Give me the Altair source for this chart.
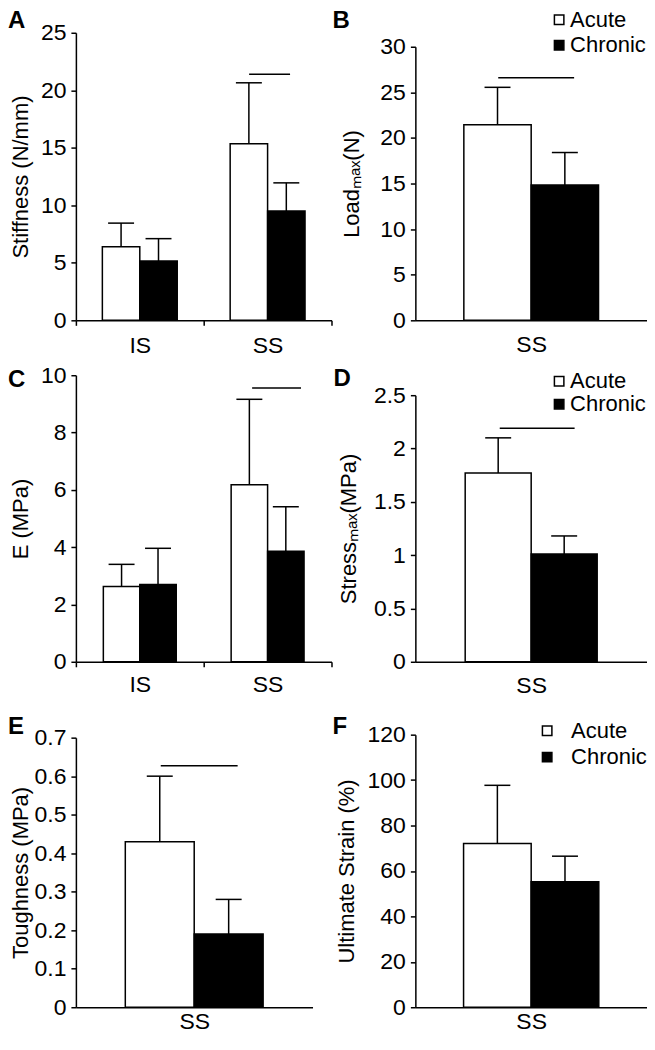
import altair as alt
import pandas as pd

FONT = "Liberation Sans"

conds = ["Acute", "Chronic"]
fills = ["white", "black"]

# Panel A - Stiffness
a_groups = ["IS", "IS", "SS", "SS"]
a_conds = ["Acute", "Chronic", "Acute", "Chronic"]
a_mean = [6.4, 5.15, 15.35, 9.5]
a_sd = [2.05, 1.95, 5.3, 2.45]
a_sig = 21.4
a_ticks = [0, 5, 10, 15, 20, 25]

# Panel B - Load max
b_groups = ["SS", "SS"]
b_conds = ["Acute", "Chronic"]
b_mean = [21.45, 14.85]
b_sd = [4.1, 3.55]
b_sig = 26.6
b_ticks = [0, 5, 10, 15, 20, 25, 30]

# Panel C - E modulus
c_groups = ["IS", "IS", "SS", "SS"]
c_conds = ["Acute", "Chronic", "Acute", "Chronic"]
c_mean = [2.63, 2.7, 6.18, 3.86]
c_sd = [0.77, 1.26, 2.98, 1.55]
c_sig = 9.55
c_ticks = [0, 2, 4, 6, 8, 10]

# Panel D - Stress max
d_groups = ["SS", "SS"]
d_conds = ["Acute", "Chronic"]
d_mean = [1.77, 1.01]
d_sd = [0.33, 0.17]
d_sig = 2.19
d_ticks = [0, 0.5, 1, 1.5, 2, 2.5]

# Panel E - Toughness
e_groups = ["SS", "SS"]
e_conds = ["Acute", "Chronic"]
e_mean = [0.43, 0.19]
e_sd = [0.17, 0.09]
e_sig = 0.627
e_ticks = [0, 0.1, 0.2, 0.3, 0.4, 0.5, 0.6, 0.7]

# Panel F - Ultimate strain
f_groups = ["SS", "SS"]
f_conds = ["Acute", "Chronic"]
f_mean = [72.1, 55.2]
f_sd = [25.6, 11.3]
f_ticks = [0, 20, 40, 60, 80, 100, 120]


def panel(letter, groups, cnds, means, sds, ticks, ytitle, plot_w, cell_h, plot_h, title_x,
          sig=None, sig_w=60, sig_dx=0, offset_pad=0.72, legend=None,
          letter_pos=(-66, 0), label_pad=12):
    df = pd.DataFrame({"group": groups, "cond": cnds, "mean": means, "sd": sds})
    df["upper"] = df["mean"] + df["sd"]
    cats = list(dict.fromkeys(groups))
    two = len(cats) > 1
    yscale = alt.Scale(domain=[0, ticks[-1]], range=[cell_h, cell_h - plot_h],
                       nice=False, zero=True)
    yaxis = alt.Axis(values=ticks, format="~r", title=ytitle, titleX=title_x,
                     titleY=cell_h - plot_h / 2, titleAngle=270, titleBaseline="bottom",
                     titleAlign="center")
    xscale = alt.Scale(domain=cats, paddingInner=0, paddingOuter=0)
    xaxis = alt.Axis(title=None, labelAngle=0, ticks=two, tickBand="extent",
                     labelPadding=label_pad)
    x = alt.X("group:N", scale=xscale, axis=xaxis)
    xo = alt.XOffset("cond:N", scale=alt.Scale(domain=conds, paddingOuter=offset_pad,
                                               paddingInner=0))
    if legend is not None:
        lx, ly, loff, rpad = legend
        leg = alt.Legend(title=None, orient="none", legendX=lx, legendY=ly, offset=0,
                         symbolType="square", symbolSize=90, symbolStrokeColor="black",
                         symbolStrokeWidth=1.5, labelFont=FONT, labelFontSize=22,
                         labelColor="black", labelOffset=loff, rowPadding=rpad, padding=0)
    else:
        leg = None
    color = alt.Color("cond:N", scale=alt.Scale(domain=conds, range=fills), legend=leg)
    base = alt.Chart(df)
    bars = base.mark_bar(stroke="black", strokeWidth=1.5).encode(
        x=x, xOffset=xo, y=alt.Y("mean:Q", scale=yscale, axis=yaxis), color=color)
    err = base.mark_rule(color="black", strokeWidth=1.5).encode(
        x=x, xOffset=xo, y=alt.Y("mean:Q", scale=yscale, axis=yaxis), y2="upper:Q")
    cap = base.mark_tick(color="black", size=26, thickness=1.5, opacity=1).encode(
        x=x, xOffset=xo, y=alt.Y("upper:Q", scale=yscale, axis=yaxis))
    layers = [bars, err, cap]
    if sig is not None:
        sdf = pd.DataFrame({"group": [cats[-1]], "sig": [sig]})
        layers.append(alt.Chart(sdf).mark_tick(color="black", size=sig_w, thickness=1.5,
                                               opacity=1, xOffset=sig_dx).encode(
            x=x, y=alt.Y("sig:Q", scale=yscale, axis=yaxis)))
    ldf = pd.DataFrame({"letter": [letter]})
    layers.append(alt.Chart(ldf).mark_text(align="left", baseline="top", font=FONT,
                                           fontSize=24, fontWeight="bold", color="black").encode(
        x=alt.value(letter_pos[0]), y=alt.value(letter_pos[1]), text="letter:N"))
    return alt.layer(*layers).properties(width=plot_w, height=cell_h)


H1, H2, H3 = 312, 296, 300

pA = panel("A", a_groups, a_conds, a_mean, a_sd, a_ticks, "Stiffness (N/mm)", 256, H1, 288, -43,
           sig=a_sig, sig_w=41, sig_dx=2, offset_pad=0.707, letter_pos=(-68, 0), label_pad=9)
pB = panel("B", b_groups, b_conds, b_mean, b_sd, b_ticks, "Loadₘₐₓ(N)", 232, H1, 274, -52,
           sig=b_sig, sig_w=76, sig_dx=5, offset_pad=0.72, legend=(133, 0, 0, 3.5),
           letter_pos=(-83, 0), label_pad=13)
pC = panel("C", c_groups, c_conds, c_mean, c_sd, c_ticks, "E (MPa)", 256, H2, 287, -43,
           sig=c_sig, sig_w=49, sig_dx=9, offset_pad=0.753, letter_pos=(-68, 1.5), label_pad=7)
pD = panel("D", d_groups, d_conds, d_mean, d_sd, d_ticks, "Stressₘₐₓ(MPa)", 232, H2, 267, -55,
           sig=d_sig, sig_w=75, sig_dx=6, offset_pad=0.755, legend=(133, 4, 0, 1),
           letter_pos=(-82, 0.5), label_pad=13)
pE = panel("E", e_groups, e_conds, e_mean, e_sd, e_ticks, "Toughness (MPa)", 237, H3, 270, -43,
           sig=e_sig, sig_w=77, sig_dx=5, offset_pad=0.717, letter_pos=(-68, 7),
           label_pad=3)
pF = panel("F", f_groups, f_conds, f_mean, f_sd, f_ticks, "Ultimate Strain (%)", 232, H3, 273, -57,
           offset_pad=0.713, legend=(121, 12, 13, 4.5), letter_pos=(-83, 7), label_pad=3)

chart = alt.concat(
    pA, pB, pC, pD, pE, pF, columns=2,
    spacing={"row": 46, "column": 84}, bounds="flush", align="each"
).resolve_scale(
    color="independent", x="independent", y="independent", xOffset="independent"
).resolve_legend(color="independent").properties(
    padding=0
).configure_view(stroke=None).configure_axis(
    domainColor="black", domainWidth=1.5, tickColor="black", tickWidth=1.5, tickSize=5,
    labelFont=FONT, labelFontSize=23, labelColor="black", labelPadding=5,
    titleFont=FONT, titleFontSize=22, titleFontWeight="normal", titleColor="black",
    grid=False
)

chart.save("out.html", embed_options={"renderer": "svg", "actions": False})
